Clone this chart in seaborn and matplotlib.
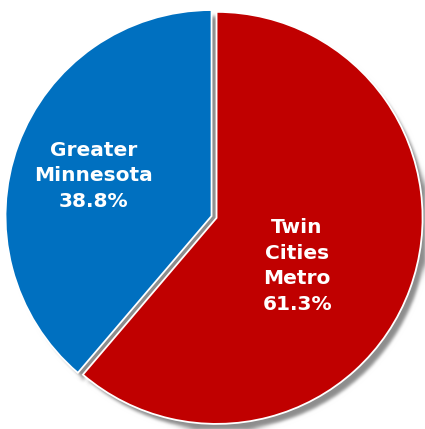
import matplotlib
matplotlib.use("Agg")
import matplotlib.pyplot as plt
from matplotlib.patches import Shadow
import numpy as np
import seaborn as sns

# Share of residents by region
regions = ["Greater\nMinnesota", "Twin\nCities\nMetro"]
shares = [38.8, 61.3]
colors = ["#0070C0", "#C00000"]

sns.set_style("white")
plt.rcParams["font.family"] = ["DejaVu Sans"]


def soft_blur(img, dpi, sigma=2.0, pad=8):
    """Gaussian blur used as an agg filter for the drop shadow."""
    padded = np.pad(img, ((pad, pad), (pad, pad), (0, 0)), mode="constant")
    r = int(3 * sigma)
    k = np.exp(-0.5 * (np.arange(-r, r + 1) / sigma) ** 2)
    k /= k.sum()
    out = padded.copy()
    for axis in (0, 1):
        out = np.apply_along_axis(lambda m: np.convolve(m, k, mode="same"), axis, out)
    return out, -pad, -pad


fig = plt.figure(figsize=(4.25, 4.29), dpi=100)
ax = fig.add_axes([0, 0, 1, 1])

wedges, _ = ax.pie(
    shares,
    colors=sns.color_palette(colors),
    startangle=90,
    counterclock=True,
    explode=[0.013, 0.013],
    radius=1.0,
    wedgeprops=dict(edgecolor="white", linewidth=1.3),
    shadow=dict(ox=0.02, oy=-0.024, facecolor="#707070", edgecolor="none", alpha=0.8),
)
for p in ax.patches:
    if isinstance(p, Shadow):
        p.set_agg_filter(soft_blur)

label_pos = [(-0.585, 0.199), (0.403, -0.238)]
for name, val, (x, y) in zip(regions, shares, label_pos):
    ax.text(x, y, f"{name}\n{val:.1f}%", ha="center", va="center",
            color="white", fontsize=14.5, fontweight="bold", linespacing=1.45)

ax.set_xlim(-1.039, 1.024)
ax.set_ylim(-1.029, 1.053)
ax.set_aspect("equal")
ax.axis("off")

fig.savefig("out.png", dpi=100, facecolor="white")
